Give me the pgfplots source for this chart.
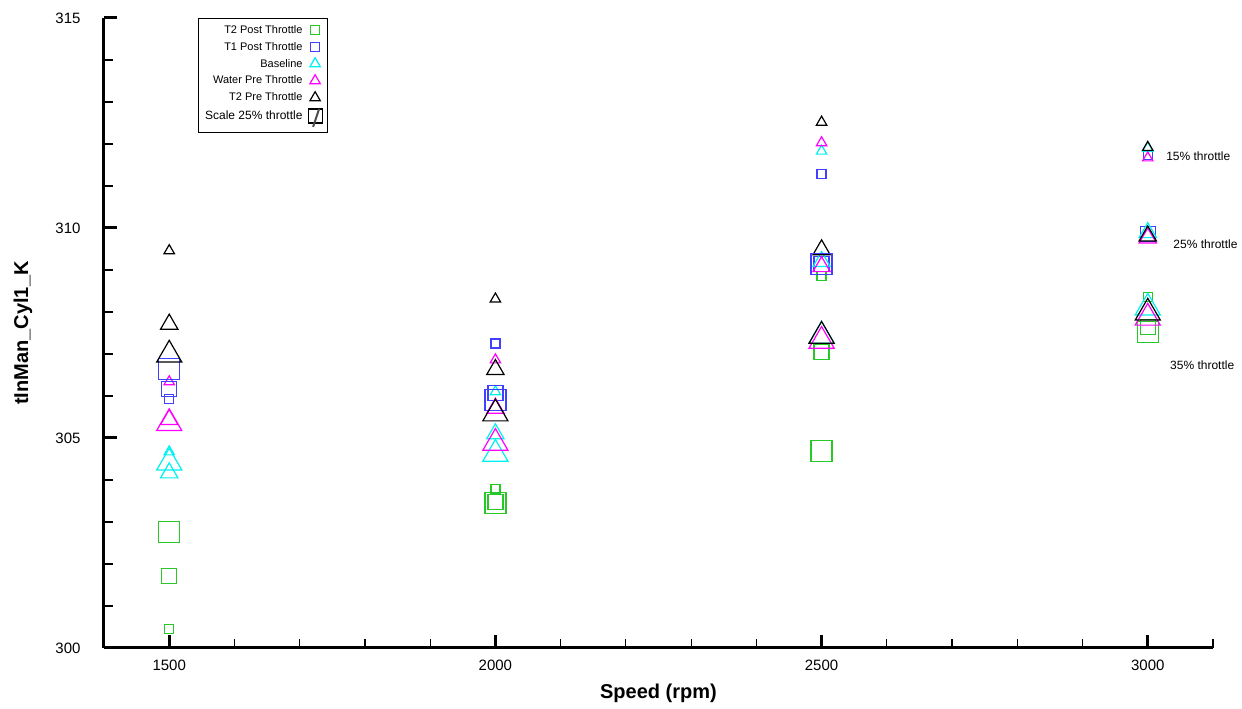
\documentclass[border=0pt]{standalone}
\usepackage{fontspec}
\setmainfont{Liberation Sans}
\usepackage{pgfplots}
\pgfplotsset{compat=1.18}
\definecolor{cgreen}{RGB}{40,200,40}
\definecolor{cblue}{RGB}{64,64,255}
\definecolor{ccyan}{RGB}{0,240,240}
\definecolor{cmag}{RGB}{255,0,255}
\pgfplotsset{
  base/.style={only marks, mark options={line width=1.2pt, solid}},
  sq/.style={base, mark=square},
  tri/.style={base, mark=triangle},
  s15/.style={mark size=4.5pt},
  s25/.style={mark size=7.5pt},
  s35/.style={mark size=10.5pt},
  t15/.style={mark size=6pt},
  t25/.style={mark size=10pt},
  t35/.style={mark size=14.5pt},
}
\begin{document}
\begin{tikzpicture}
\begin{axis}[
  scale only axis, width=1109pt, height=630pt,
  xmin=1400, xmax=3100, ymin=300, ymax=315,
  axis x line=bottom, axis y line=left,
  axis line style={-, line width=3pt},
  xtick={1500,2000,2500,3000},
  minor xtick={1400,1600,1700,1800,1900,2100,2200,2300,2400,2600,2700,2800,2900,3100},
  ytick={300,305,310,315},
  minor ytick={301,302,303,304,306,307,308,309,311,312,313,314},
  tick align=inside,
  major tick length=13pt, minor tick length=9pt,
  every major tick/.style={line width=3pt, black},
  every minor tick/.style={line width=1.2pt, black},
  /pgf/number format/assume math mode=true,
  /pgf/number format/1000 sep={},
  ticklabel style={font=\fontsize{15}{18}\selectfont},
  xticklabel style={yshift=-8pt},
  yticklabel style={xshift=-20pt},
  xlabel={Speed (rpm)}, ylabel={tInMan\_Cyl1\_K},
  every axis x label/.style={at={(axis description cs:0.5,0)}, yshift=-45pt, anchor=center,
    font=\bfseries\fontsize{20}{24}\selectfont},
  every axis y label/.style={at={(axis description cs:0,0.5)}, xshift=-81pt, rotate=90, anchor=center,
    font=\bfseries\fontsize{20}{24}\selectfont},
  clip=false,
  legend plot pos=right,
  legend cell align=right,
  legend style={at={(axis description cs:0.0848,1)}, anchor=north west, draw=black, line width=1.2pt,
    font=\fontsize{11}{13}\selectfont, row sep=3.5pt, inner sep=4.5pt, column sep=3pt},
]
% legend (15% throttle) series
\addplot[sq, s15, color=cgreen] coordinates {(1500,300.45) (2000,303.79) (2500,308.86) (3000,308.35)};
\addlegendentry{T2 Post Throttle}
\addplot[sq, s15, color=cblue] coordinates {(1500,305.93) (2000,307.25) (2500,311.28) (3000,311.73)};
\addlegendentry{T1 Post Throttle}
\addplot[tri, t15, color=ccyan] coordinates {(1500,304.67) (2000,306.10) (2500,311.83) (3000,311.90)};
\addlegendentry{Baseline}
\addplot[tri, t15, color=cmag] coordinates {(1500,306.34) (2000,306.86) (2500,312.03) (3000,311.67)};
\addlegendentry{Water Pre Throttle}
\addplot[tri, t15, color=black] coordinates {(1500,309.46) (2000,308.31) (2500,312.52) (3000,311.92)};
\addlegendentry{T2 Pre Throttle}
\addlegendimage{legend image code/.code={
  \draw[black, line width=1.2pt] (0.3cm-7pt,-7pt) rectangle (0.3cm+7pt,7pt);
  \draw[black!70, line width=2pt] (0.3cm-2pt,-11pt) -- (0.3cm+4pt,7pt);}}
\addlegendentry{\fontsize{12}{14}\selectfont Scale 25\% throttle}
% 25% throttle
\addplot[sq, s25, color=cgreen, forget plot] coordinates {(1500,301.72) (2000,303.47) (2500,307.05) (3000,307.64)};
\addplot[sq, s25, color=cblue, forget plot] coordinates {(1500,306.16) (2000,306.07) (2500,309.15) (3000,309.86)};
\addplot[tri, t25, color=ccyan, forget plot] coordinates {(1500,304.17) (2000,305.10) (2500,309.20) (3000,309.89)};
\addplot[tri, t25, color=cmag, forget plot] coordinates {(1500,305.44) (2000,305.71) (2500,309.08) (3000,309.76)};
\addplot[tri, t25, color=black, forget plot] coordinates {(1500,307.71) (2000,306.63) (2500,309.48) (3000,309.81)};
% 35% throttle
\addplot[sq, s35, color=cgreen, forget plot] coordinates {(1500,302.76) (2000,303.45) (2500,304.69) (3000,307.53)};
\addplot[sq, s35, color=cblue, forget plot] coordinates {(1500,306.64) (2000,305.90) (2500,309.14)};
\addplot[tri, t35, color=ccyan, forget plot] coordinates {(1500,304.41) (2000,304.62) (2500,307.43) (3000,308.10)};
\addplot[tri, t35, color=cmag, forget plot] coordinates {(1500,305.35) (2000,304.88) (2500,307.31) (3000,307.86)};
\addplot[tri, t35, color=black, forget plot] coordinates {(1500,306.98) (2000,305.58) (2500,307.43) (3000,307.98)};
\node[anchor=west, font=\fontsize{12}{14}\selectfont] at (axis cs:3023,311.71) {15\% throttle};
\node[anchor=west, font=\fontsize{12}{14}\selectfont] at (axis cs:3034,309.62) {25\% throttle};
\node[anchor=west, font=\fontsize{12}{14}\selectfont] at (axis cs:3029,306.74) {35\% throttle};
\end{axis}
\pgfresetboundingbox
\useasboundingbox (-104pt,-61pt) rectangle (1138pt,648pt);
\end{tikzpicture}
\end{document}
